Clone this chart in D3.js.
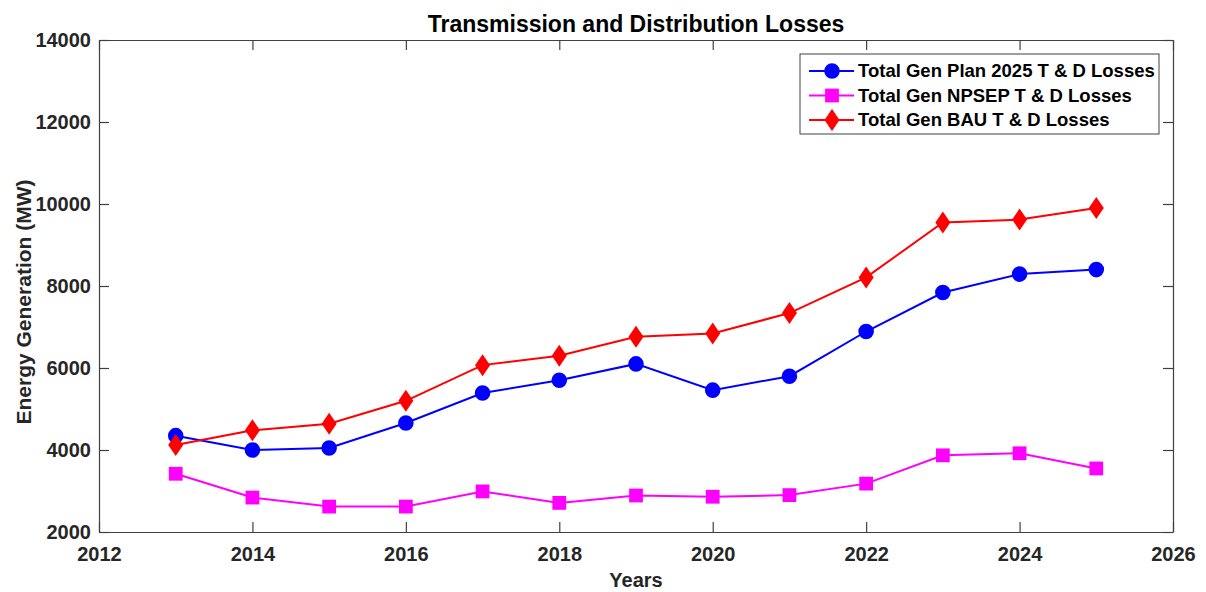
<!DOCTYPE html>
<html>
<head>
<meta charset="utf-8">
<script src="https://cdn.jsdelivr.net/npm/d3@7"></script>
<style>
  body { margin: 0; background: #fff; }
  text { font-family: "Liberation Sans", Arial, sans-serif; font-weight: bold; }
</style>
</head>
<body>
<div id="chart"></div>
<script>
// data
var years = [2013, 2014, 2015, 2016, 2017, 2018, 2019, 2020, 2021, 2022, 2023, 2024, 2025];
var planLosses = [4350, 4000, 4050, 4660, 5390, 5700, 6100, 5460, 5800, 6890, 7840, 8290, 8400];
var npsepLosses = [3420, 2840, 2620, 2620, 2990, 2710, 2890, 2860, 2900, 3180, 3870, 3920, 3550];
var bauLosses = [4120, 4480, 4640, 5200, 6070, 6300, 6760, 6840, 7340, 8210, 9550, 9620, 9900];
var xTicks = [2012, 2014, 2016, 2018, 2020, 2022, 2024, 2026];
var yTicks = [2000, 4000, 6000, 8000, 10000, 12000, 14000];
var seriesNames = ["Total Gen Plan 2025 T & D Losses", "Total Gen NPSEP T & D Losses", "Total Gen BAU T & D Losses"];

var series = [
  {name: seriesNames[0], values: planLosses, color: "#0000ff", marker: "circle"},
  {name: seriesNames[1], values: npsepLosses, color: "#ff00ff", marker: "square"},
  {name: seriesNames[2], values: bauLosses, color: "#ff0000", marker: "diamond"}
];

var W = 1206, H = 592;
var margin = {top: 40, right: 33, bottom: 60, left: 99},
    width = W - margin.left - margin.right,
    height = H - margin.top - margin.bottom;

var svg = d3.select("#chart").append("svg")
    .attr("width", W).attr("height", H);

var g = svg.append("g")
    .attr("transform", "translate(" + margin.left + "," + margin.top + ")");

var x = d3.scaleLinear().domain([2012, 2026]).range([0, width]);
var y = d3.scaleLinear().domain([2000, 14000]).range([height, 0]);

var axisColor = "#404040";
var tickLen = 10;

function styleAxis(sel, showText) {
  sel.select(".domain").attr("stroke", axisColor).attr("stroke-width", 1.2);
  sel.selectAll(".tick line").attr("stroke", axisColor).attr("stroke-width", 1.2);
  sel.selectAll(".tick text")
    .attr("fill", "#262626")
    .style("font-size", "20px")
    .style("display", showText ? null : "none");
}

// bottom axis, ticks inward
g.append("g")
  .attr("transform", "translate(0," + height + ")")
  .call(d3.axisBottom(x).tickValues(xTicks).tickFormat(d3.format("d"))
    .tickSizeInner(-tickLen).tickSizeOuter(0).tickPadding(15))
  .call(function(s) { styleAxis(s, true); });

// top axis
g.append("g")
  .call(d3.axisTop(x).tickValues(xTicks).tickSizeInner(-tickLen).tickSizeOuter(0))
  .call(function(s) { styleAxis(s, false); });

// left axis
g.append("g")
  .call(d3.axisLeft(y).tickValues(yTicks).tickFormat(d3.format("d"))
    .tickSizeInner(-tickLen).tickSizeOuter(0).tickPadding(8))
  .call(function(s) { styleAxis(s, true); });

// right axis
g.append("g")
  .attr("transform", "translate(" + width + ",0)")
  .call(d3.axisRight(y).tickValues(yTicks).tickSizeInner(-tickLen).tickSizeOuter(0))
  .call(function(s) { styleAxis(s, false); });

var line = d3.line()
  .x(function(d, i) { return x(years[i]); })
  .y(function(d) { return y(d); });

var symbolFor = {
  circle: d3.symbol().type(d3.symbolCircle).size(190),
  square: d3.symbol().type(d3.symbolSquare).size(190)
};

function drawMarker(sel, kind, color) {
  if (kind === "diamond") {
    sel.append("path").attr("d", "M0,-11L7.5,0L0,11L-7.5,0Z").attr("fill", color);
  } else {
    sel.append("path").attr("d", symbolFor[kind]()).attr("fill", color);
  }
}

series.forEach(function(s) {
  g.append("path")
    .datum(s.values)
    .attr("d", line)
    .attr("fill", "none")
    .attr("stroke", s.color)
    .attr("stroke-width", 2);

  g.append("g").selectAll("g")
    .data(s.values)
    .enter()
    .append("g")
      .attr("transform", function(d, i) { return "translate(" + x(years[i]) + "," + y(d) + ")"; })
      .each(function() { drawMarker(d3.select(this), s.marker, s.color); });
});

// title and labels
svg.append("text")
  .text("Transmission and Distribution Losses")
  .attr("x", margin.left + width / 2)
  .attr("y", 32)
  .attr("text-anchor", "middle")
  .attr("fill", "#000")
  .style("font-size", "23px");

svg.append("text")
  .text("Years")
  .attr("x", margin.left + width / 2)
  .attr("y", 587)
  .attr("text-anchor", "middle")
  .attr("fill", "#262626")
  .style("font-size", "20px");

svg.append("text")
  .text("Energy Generation (MW)")
  .attr("transform", "translate(31,302) rotate(-90)")
  .attr("text-anchor", "middle")
  .attr("fill", "#262626")
  .style("font-size", "21px");

// legend
var legend = svg.append("g").attr("transform", "translate(800,54)");
legend.append("rect")
  .attr("width", 359).attr("height", 80)
  .attr("fill", "#fff")
  .attr("stroke", axisColor).attr("stroke-width", 1);

series.forEach(function(s, i) {
  var row = legend.append("g").attr("transform", "translate(0," + (17 + i * 24.5) + ")");
  row.append("line")
    .attr("x1", 9).attr("x2", 54)
    .attr("stroke", s.color).attr("stroke-width", 2);
  drawMarker(row.append("g").attr("transform", "translate(32,0)"), s.marker, s.color);
  row.append("text")
    .text(s.name)
    .attr("x", 58)
    .attr("dy", "0.35em")
    .attr("fill", "#000")
    .style("font-size", "18.5px");
});
</script>
</body>
</html>
